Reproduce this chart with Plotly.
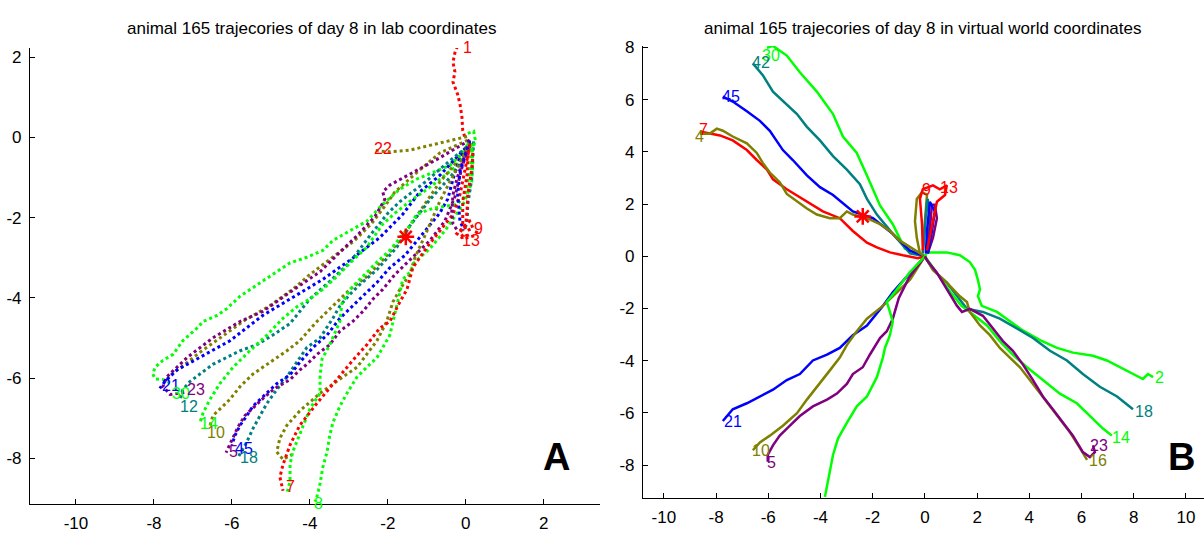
import plotly.graph_objects as go

RED = "#FF0000"; GREEN = "#00FF00"; BLUE = "#0000FF"
TEAL = "#008080"; OLIVE = "#808000"; PURPLE = "#800080"

# ---------------- Panel A: lab coordinates ----------------
labA_red1_x = [-0.03, -0.08, -0.10, -0.15, -0.21, -0.28, -0.33, -0.28, -0.33, -0.28, -0.21, -0.10]
labA_red1_y = [0.02, 0.17, 0.51, 0.83, 1.07, 1.24, 1.38, 1.63, 1.87, 2.11, 2.28, 2.33]

labA_olive22_x = [0.03, -0.49, -0.85, -1.18, -1.44, -1.69, -1.95, -2.21, -2.38]
labA_olive22_y = [0.02, -0.10, -0.19, -0.27, -0.32, -0.34, -0.36, -0.34, -0.32]

labA_red9_x = [0.10, 0.05, 0.03, -0.03, -0.08, -0.08, -0.08, 0.03, 0.18, 0.10, -0.08, -0.23, -0.10, 0.15]
labA_red9_y = [-0.15, -0.56, -0.95, -1.29, -1.60, -1.92, -2.16, -2.33, -2.26, -2.09, -2.26, -2.40, -2.50, -2.40]
labA_red13_x = [0.18, 0.15, 0.10, 0.05, 0.03, 0.0, -0.15, -0.03, 0.23, 0.31]
labA_red13_y = [-0.39, -0.80, -1.12, -1.43, -1.84, -2.14, -2.38, -2.52, -2.45, -2.28]
labA_purple_s_x = [0.10, -0.08, -0.23, -0.33, -0.36, -0.33, -0.21]
labA_purple_s_y = [-0.07, -0.63, -1.04, -1.43, -1.84, -2.16, -2.33]
labA_teal_s_x = [0.20, 0.18, 0.15, 0.05, 0.03, -0.08]
labA_teal_s_y = [-0.10, -0.39, -1.04, -1.67, -2.16, -2.33]
labA_blue_s_x = [0.10, 0.03, -0.15, -0.21, -0.15, -0.05]
labA_blue_s_y = [-0.10, -0.32, -0.87, -1.43, -2.09, -2.30]
labA_green_s_x = [0.05, 0.20, 0.25, 0.15, 0.0]
labA_green_s_y = [0.10, 0.15, -0.10, -0.30, -0.10]

labA_green30_x = [0.10, -0.08, -0.41, -0.85, -1.26, -1.69, -2.13, -2.54, -2.97, -3.41, -3.67, -4.08, -4.51, -4.77,
                  -5.28, -5.79, -6.13, -6.38, -6.74, -6.90, -7.26, -7.51, -7.77, -7.97, -8.03, -7.97, -7.77, -7.59]
labA_green30_y = [-0.07, -0.39, -0.70, -0.87, -1.04, -1.29, -1.67, -2.09, -2.33, -2.57, -2.82, -2.99, -3.13, -3.30,
                  -3.62, -3.96, -4.27, -4.44, -4.59, -4.76, -5.07, -5.41, -5.56, -5.73, -5.90, -6.02, -6.04, -6.12]

labA_olive_x = [0.05, -0.67, -1.31, -1.82, -2.08, -2.41, -2.85, -3.36, -4.0, -4.44, -5.03, -5.67, -6.31, -6.82, -7.21, -7.54, -7.72]
labA_olive_y = [-0.07, -0.39, -0.92, -1.36, -1.72, -2.14, -2.57, -2.94, -3.42, -3.79, -4.20, -4.56, -5.0, -5.36, -5.66, -5.90, -6.09]

labA_purple23_x = [0.10, -0.67, -1.44, -1.95, -2.13, -2.08, -2.33, -2.79, -3.31, -3.74, -4.51, -5.21, -5.79, -6.49, -7.15, -7.67, -7.77, -7.59, -7.21]
labA_purple23_y = [-0.07, -0.51, -0.92, -1.19, -1.36, -1.55, -1.97, -2.45, -2.94, -3.35, -3.86, -4.34, -4.59, -5.0, -5.49, -5.97, -6.21, -6.41, -6.36]

labA_blue21_x = [0.10, -0.67, -1.18, -1.62, -2.21, -2.97, -3.67, -4.51, -5.21, -6.05, -6.82, -7.41, -7.72, -7.85]
labA_blue21_y = [-0.15, -0.95, -1.36, -1.92, -2.50, -3.06, -3.54, -4.03, -4.44, -5.07, -5.49, -5.80, -6.09, -6.26]

labA_teal12_x = [0.15, -0.41, -1.05, -1.69, -2.0, -2.46, -2.97, -3.49, -4.0, -4.51, -4.95, -5.36, -5.79, -6.13, -6.49, -6.82, -7.08, -7.26, -7.33]
labA_teal12_y = [-0.15, -0.58, -1.12, -1.60, -1.89, -2.45, -3.11, -3.59, -4.03, -4.64, -4.93, -5.17, -5.32, -5.49, -5.66, -5.90, -6.09, -6.29, -6.53]

labA_green14_x = [0.15, -0.28, -0.92, -1.44, -1.82, -2.13, -2.54, -2.97, -3.31, -3.67, -4.0, -4.33, -4.69, -5.10, -5.54, -5.97, -6.31, -6.56, -6.74, -6.82]
labA_green14_y = [-0.15, -0.75, -1.24, -1.60, -1.89, -2.16, -2.74, -3.13, -3.47, -3.79, -4.03, -4.22, -4.51, -4.93, -5.32, -5.73, -6.14, -6.53, -6.87, -7.11]

labA_olive10_x = [0.10, -0.15, -0.67, -1.18, -1.69, -2.13, -2.54, -2.97, -3.41, -3.82, -4.26, -4.59, -5.10, -5.46, -5.79, -6.05, -6.23, -6.49, -6.56]
labA_olive10_y = [-0.15, -0.51, -1.12, -1.84, -2.57, -3.06, -3.47, -3.79, -4.20, -4.59, -5.07, -5.32, -5.66, -5.90, -6.21, -6.53, -6.70, -6.94, -7.18]

labA_teal18_x = [0.15, -0.10, -0.41, -0.92, -1.44, -1.77, -2.28, -2.72, -2.97, -3.23, -3.41, -3.74, -4.08, -4.26, -4.44, -4.59,
                 -4.85, -5.10, -5.28, -5.46, -5.62, -5.79, -5.85]
labA_teal18_y = [-0.15, -0.63, -1.0, -1.55, -2.21, -2.74, -3.30, -3.67, -3.91, -4.20, -4.51, -5.0, -5.24, -5.49, -5.73, -5.97,
                 -6.29, -6.63, -6.94, -7.26, -7.60, -7.91, -7.99]

labA_blue45_x = [0.10, -0.15, -0.33, -0.46, -0.67, -1.18, -1.56, -1.95, -2.28, -2.54, -2.90, -3.23, -3.56, -3.92, -4.26, -4.51,
                 -4.85, -5.10, -5.28, -5.46, -5.62, -5.79, -5.92, -6.0]
labA_blue45_y = [-0.15, -0.51, -1.04, -1.53, -1.89, -2.50, -2.94, -3.25, -3.62, -3.86, -4.20, -4.51, -4.93, -5.24, -5.61, -5.92,
                 -6.14, -6.38, -6.53, -6.70, -6.94, -7.18, -7.43, -7.67]

labA_purple5_x = [0.10, -0.10, -0.28, -0.54, -0.92, -1.44, -1.82, -2.13, -2.38, -2.64, -2.90, -3.23, -3.49, -3.82, -4.08, -4.26,
                  -4.51, -4.90, -5.15, -5.41, -5.67, -5.85, -6.0, -6.10, -6.15]
labA_purple5_y = [-0.15, -0.75, -1.48, -2.09, -2.57, -3.06, -3.42, -3.79, -4.03, -4.34, -4.59, -4.83, -5.17, -5.41, -5.66, -5.80,
                  -6.04, -6.26, -6.46, -6.70, -6.94, -7.23, -7.55, -7.72, -7.86]

labA_red7_x = [0.10, 0.03, -0.08, -0.15, -0.33, -0.67, -1.0, -1.36, -1.51, -1.69, -1.95, -2.21, -2.54, -2.90, -3.31, -3.82,
               -4.26, -4.51, -4.69, -4.77, -4.69]
labA_red7_y = [-0.22, -0.56, -1.04, -1.43, -1.92, -2.33, -2.74, -3.25, -3.79, -4.10, -4.59, -4.76, -5.17, -5.56, -6.04, -6.63,
               -7.18, -7.67, -8.16, -8.47, -8.81]

labA_olive4_x = [0.10, -0.28, -0.67, -1.05, -1.31, -1.44, -1.69, -1.87, -2.03, -2.28, -2.54, -2.79, -3.15, -3.74, -4.26, -4.59,
                 -4.77, -4.85, -4.69, -4.46]
labA_olive4_y = [-0.15, -0.87, -1.60, -2.45, -3.01, -3.42, -3.79, -4.10, -4.59, -5.07, -5.41, -5.73, -5.97, -6.38, -6.82, -7.18,
                 -7.50, -7.84, -8.03, -7.91]

labA_green4_x = [0.18, 0.10, -0.03, -0.23, -0.85, -1.26, -1.44, -1.69, -1.95, -2.28, -2.64, -2.97, -3.18, -3.23, -3.49, -3.69,
                 -3.74, -3.74, -4.0, -4.26, -4.44, -4.51, -4.51, -4.59]
labA_green4_y = [-0.15, -0.87, -1.48, -1.67, -1.77, -1.92, -2.21, -2.52, -2.82, -3.11, -3.47, -3.79, -4.15, -4.59, -5.17, -5.53,
                 -5.97, -6.38, -6.77, -7.43, -7.84, -8.16, -8.57, -8.88]

labA_green8_x = [0.15, 0.18, 0.15, -0.03, -0.28, -0.54, -0.92, -1.31, -1.44, -1.62, -1.69, -1.77, -1.87, -1.95, -2.13, -2.28,
                 -2.54, -2.79, -3.05, -3.23, -3.41, -3.49, -3.56, -3.67, -3.74, -3.82, -3.87]
labA_green8_y = [-0.15, -0.63, -1.12, -1.60, -1.97, -2.33, -2.77, -3.11, -3.37, -3.54, -3.86, -4.20, -4.59, -4.93, -5.24, -5.49,
                 -5.73, -5.97, -6.38, -6.70, -7.11, -7.43, -7.84, -8.23, -8.64, -8.96, -9.08]

labA_star_x = [-1.54]
labA_star_y = [-2.48]

labA_text = ["1", "22", "9", "13", "21", "30", "23", "12", "14", "10", "5", "45", "18", "7", "8"]
labA_text_x = [-0.12, -2.41, 0.15, -0.15, -7.85, -7.59, -7.21, -7.38, -6.87, -6.69, -6.13, -5.97, -5.85, -4.67, -3.95]
labA_text_y = [2.23, -0.27, -2.26, -2.57, -6.19, -6.38, -6.29, -6.70, -7.14, -7.35, -7.82, -7.75, -7.99, -8.71, -9.13]
labA_text_c = [RED, RED, RED, RED, BLUE, GREEN, PURPLE, TEAL, GREEN, OLIVE, PURPLE, BLUE, TEAL, RED, GREEN]

# ---------------- Panel B: virtual world coordinates ----------------
vw_green30_x = [0, -0.77, -1.23, -1.72, -2.22, -2.61, -3.14, -3.52, -4.14, -4.79, -5.29, -5.82, -6.05]
vw_green30_y = [0, 0.30, 1.23, 1.95, 3.10, 3.96, 4.59, 5.45, 6.31, 7.05, 7.69, 8.06, 7.99]
vw_teal42_x = [0, -0.57, -1.23, -1.84, -2.22, -2.49, -2.99, -3.52, -4.02, -4.52, -4.90, -5.29, -5.82, -6.21, -6.59]
vw_teal42_y = [0, 0.11, 0.86, 1.60, 2.20, 2.76, 3.32, 3.84, 4.44, 4.96, 5.45, 5.82, 6.31, 6.94, 7.39]
vw_blue45_x = [0, -0.57, -1.23, -1.99, -2.76, -3.52, -4.02, -4.52, -5.06, -5.44, -5.94, -6.32, -6.82, -7.36, -7.74]
vw_blue45_y = [0, 0.22, 0.86, 1.46, 1.72, 2.35, 2.65, 3.10, 3.69, 4.07, 4.81, 5.19, 5.56, 5.93, 6.12]
vw_red7_x = [0, -0.27, -0.84, -1.34, -1.84, -2.22, -2.76, -3.26, -3.91, -4.52, -5.29, -5.82, -6.05, -6.44, -6.82, -7.36, -7.85, -8.62]
vw_red7_y = [0, -0.07, 0.04, 0.15, 0.34, 0.52, 0.97, 1.46, 1.72, 2.09, 2.57, 2.95, 3.32, 3.69, 4.07, 4.44, 4.63, 4.78]
vw_olive4_x = [0, -0.57, -0.96, -1.34, -1.72, -2.22, -2.76, -2.99, -3.26, -3.64, -4.14, -4.52, -4.90, -5.29, -5.56, -5.94,
               -6.21, -6.44, -6.82, -7.36, -7.74, -7.97, -8.24, -8.62]
vw_olive4_y = [0, 0.34, 0.60, 0.97, 1.23, 1.46, 1.60, 1.72, 1.46, 1.46, 1.60, 1.83, 2.09, 2.39, 2.84, 3.21,
               3.58, 3.96, 4.33, 4.59, 4.81, 4.89, 4.70, 4.70]
vw_blue21_x = [0, -0.57, -1.23, -1.61, -2.22, -2.76, -3.26, -3.75, -4.29, -4.79, -5.29, -5.82, -6.32, -6.82, -7.36, -7.66, -7.74]
vw_blue21_y = [0, -0.63, -1.38, -1.90, -2.65, -3.02, -3.51, -3.77, -3.99, -4.51, -4.74, -5.11, -5.37, -5.63, -5.86, -6.19, -6.31]
vw_olive10_x = [0, -0.57, -1.23, -1.61, -2.22, -2.61, -2.99, -3.26, -3.64, -4.14, -4.52, -4.90, -5.44, -5.94, -6.32, -6.59]
vw_olive10_y = [0, -0.90, -1.53, -1.90, -2.39, -2.87, -3.40, -3.88, -4.37, -5.00, -5.49, -6.01, -6.49, -6.87, -7.13, -7.43]
vw_purple5_x = [0, -0.6, -1.0, -1.23, -1.46, -1.72, -2.11, -2.38, -2.76, -2.99, -3.37, -3.75, -4.29, -4.79, -5.17, -5.56, -5.82, -6.02, -6.02]
vw_purple5_y = [0, -0.8, -1.6, -2.39, -2.87, -3.13, -3.77, -4.25, -4.51, -4.89, -5.26, -5.49, -5.75, -6.12, -6.49, -6.87, -7.24, -7.61, -7.87]
vw_green8_x = [0, -0.57, -1.10, -1.46, -1.34, -1.23, -1.34, -1.53, -1.61, -1.84, -2.22, -2.61, -2.99, -3.33, -3.52, -3.64, -3.75, -3.83]
vw_green8_y = [0, -0.60, -1.30, -1.75, -2.13, -2.50, -3.02, -3.51, -3.88, -4.63, -5.37, -5.75, -6.38, -6.98, -7.61, -8.25, -8.73, -9.22]
vw_green2_x = [0, 0.08, 0.84, 1.34, 1.72, 1.92, 2.03, 2.11, 2.03, 2.18, 2.76, 3.26, 3.75, 4.41, 5.06, 5.67, 6.44, 6.97, 7.47, 7.97, 8.35, 8.54, 8.74]
vw_green2_y = [0, 0.15, 0.15, 0.04, -0.22, -0.52, -0.90, -1.27, -1.53, -1.90, -2.13, -2.50, -2.84, -3.21, -3.51, -3.69, -3.81, -3.99, -4.25, -4.51, -4.70, -4.51, -4.63]
vw_teal18_x = [0, 0.31, 0.84, 1.23, 1.61, 2.22, 2.87, 3.52, 4.14, 4.79, 5.44, 6.05, 6.70, 7.36, 7.97]
vw_teal18_y = [0, -0.52, -1.01, -1.53, -2.01, -2.13, -2.39, -2.76, -3.13, -3.62, -3.99, -4.51, -5.00, -5.37, -5.86]
vw_green14_x = [0, 0.5, 1.0, 1.4, 1.72, 2.38, 2.87, 3.37, 3.91, 4.52, 5.17, 5.82, 6.32, 6.82, 7.16]
vw_green14_y = [0, -0.7, -1.4, -1.9, -2.13, -2.65, -3.25, -3.77, -4.25, -4.74, -5.26, -5.63, -6.12, -6.60, -6.87]
vw_purple23_x = [0, 0.08, 0.46, 0.84, 1.23, 1.42, 1.72, 2.22, 2.61, 2.99, 3.37, 3.75, 4.14, 4.52, 4.90, 5.29, 5.67, 6.05, 6.32, 6.51, 6.44]
vw_purple23_y = [0, -0.15, -0.63, -1.27, -1.90, -2.13, -2.01, -2.28, -2.76, -3.25, -3.62, -4.14, -4.74, -5.37, -5.86, -6.38, -6.87, -7.50, -7.69, -7.50, -7.24]
vw_olive16_x = [0, 0.31, 0.84, 1.34, 1.61, 1.72, 2.11, 2.49, 2.87, 3.26, 3.64, 4.02, 4.41, 4.79, 5.17, 5.56, 5.94, 6.21]
vw_olive16_y = [0, -0.52, -1.01, -1.53, -1.75, -2.13, -2.65, -3.02, -3.51, -3.88, -4.25, -4.74, -5.26, -5.75, -6.23, -6.75, -7.35, -7.80]
vw_olive_c_x = [-0.19, -0.31, -0.38, -0.31, -0.11, 0.08, 0.0, -0.08]
vw_olive_c_y = [0.11, 0.71, 1.34, 2.20, 2.46, 2.35, 1.34, 0.11]
vw_red_c_x = [-0.08, -0.11, -0.19, -0.08, 0.31, 0.57, 0.84, 0.77, 0.46, 0.27, 0.08]
vw_red_c_y = [0.22, 1.23, 2.20, 2.57, 2.72, 2.57, 2.72, 2.35, 2.09, 1.08, 0.22]
vw_teal_c_x = [-0.08, 0.0, 0.08, 0.11, 0.19, 0.11]
vw_teal_c_y = [0.11, 1.23, 2.09, 2.20, 1.34, 0.11]
vw_purple_c_x = [0.11, 0.31, 0.46, 0.38, 0.27, 0.19, 0.11]
vw_purple_c_y = [0.11, 0.71, 1.46, 1.98, 1.98, 0.97, 0.11]
vw_blue_c_x = [0.11, 0.27, 0.38, 0.19, 0.08, 0.04]
vw_blue_c_y = [0.11, 0.97, 1.72, 2.09, 0.97, 0.11]

vw_star_x = [-2.38]
vw_star_y = [1.53]

vw_text = ["30", "42", "45", "7", "4", "9", "13", "2", "18", "14", "23", "16", "21", "10", "5", "8"]
vw_text_x = [-6.32, -6.70, -7.85, -8.74, -8.90, -0.20, 0.50, 8.74, 7.97, 7.09, 6.25, 6.21, -7.78, -6.70, -6.13, -3.95]
vw_text_y = [7.69, 7.43, 6.12, 4.85, 4.60, 2.55, 2.65, -4.63, -5.93, -6.94, -7.24, -7.84, -6.31, -7.43, -7.91, -9.29]
vw_text_c = [GREEN, TEAL, BLUE, RED, OLIVE, RED, RED, GREEN, TEAL, GREEN, PURPLE, OLIVE, BLUE, OLIVE, PURPLE, GREEN]

ticksA_x = [-10, -8, -6, -4, -2, 0, 2]
ticksA_y = [-8, -6, -4, -2, 0, 2]
ticksB_x = [-10, -8, -6, -4, -2, 0, 2, 4, 6, 8, 10]
ticksB_y = [-8, -6, -4, -2, 0, 2, 4, 6, 8]

titleA = "animal 165 trajecories of day 8 in lab coordinates"
titleB = "animal 165 trajecories of day 8 in virtual world coordinates"

# ---------------- figure ----------------
fig = go.Figure()

lab_tracks = [
    (labA_red1_x, labA_red1_y, RED),
    (labA_olive22_x, labA_olive22_y, OLIVE),
    (labA_green30_x, labA_green30_y, GREEN),
    (labA_olive_x, labA_olive_y, OLIVE),
    (labA_purple23_x, labA_purple23_y, PURPLE),
    (labA_blue21_x, labA_blue21_y, BLUE),
    (labA_teal12_x, labA_teal12_y, TEAL),
    (labA_green14_x, labA_green14_y, GREEN),
    (labA_olive10_x, labA_olive10_y, OLIVE),
    (labA_teal18_x, labA_teal18_y, TEAL),
    (labA_blue45_x, labA_blue45_y, BLUE),
    (labA_purple5_x, labA_purple5_y, PURPLE),
    (labA_olive4_x, labA_olive4_y, OLIVE),
    (labA_green4_x, labA_green4_y, GREEN),
    (labA_green8_x, labA_green8_y, GREEN),
    (labA_red7_x, labA_red7_y, RED),
    (labA_purple_s_x, labA_purple_s_y, PURPLE),
    (labA_teal_s_x, labA_teal_s_y, TEAL),
    (labA_blue_s_x, labA_blue_s_y, BLUE),
    (labA_green_s_x, labA_green_s_y, GREEN),
    (labA_red9_x, labA_red9_y, RED),
    (labA_red13_x, labA_red13_y, RED),
]
for xs, ys, c in lab_tracks:
    fig.add_trace(go.Scatter(x=xs, y=ys, mode="lines", xaxis="x", yaxis="y",
                             line=dict(color=c, width=3, dash="3px,3px"),
                             showlegend=False, hoverinfo="skip"))
fig.add_trace(go.Scatter(x=labA_star_x, y=labA_star_y, mode="markers", xaxis="x", yaxis="y",
                         marker=dict(symbol="asterisk-open", size=14, color=RED, line=dict(color=RED, width=2.5)),
                         showlegend=False))

vw_tracks = [
    (vw_green30_x, vw_green30_y, GREEN),
    (vw_teal42_x, vw_teal42_y, TEAL),
    (vw_blue45_x, vw_blue45_y, BLUE),
    (vw_red7_x, vw_red7_y, RED),
    (vw_olive4_x, vw_olive4_y, OLIVE),
    (vw_blue21_x, vw_blue21_y, BLUE),
    (vw_olive10_x, vw_olive10_y, OLIVE),
    (vw_purple5_x, vw_purple5_y, PURPLE),
    (vw_green8_x, vw_green8_y, GREEN),
    (vw_green2_x, vw_green2_y, GREEN),
    (vw_teal18_x, vw_teal18_y, TEAL),
    (vw_green14_x, vw_green14_y, GREEN),
    (vw_olive16_x, vw_olive16_y, OLIVE),
    (vw_purple23_x, vw_purple23_y, PURPLE),
    (vw_olive_c_x, vw_olive_c_y, OLIVE),
    (vw_teal_c_x, vw_teal_c_y, TEAL),
    (vw_purple_c_x, vw_purple_c_y, PURPLE),
    (vw_blue_c_x, vw_blue_c_y, BLUE),
    (vw_red_c_x, vw_red_c_y, RED),
]
for xs, ys, c in vw_tracks:
    fig.add_trace(go.Scatter(x=xs, y=ys, mode="lines", xaxis="x2", yaxis="y2",
                             line=dict(color=c, width=2.5),
                             showlegend=False, hoverinfo="skip"))
fig.add_trace(go.Scatter(x=vw_star_x, y=vw_star_y, mode="markers", xaxis="x2", yaxis="y2",
                         marker=dict(symbol="asterisk-open", size=14, color=RED, line=dict(color=RED, width=2.5)),
                         showlegend=False))

FONT = "Liberation Sans, Arial, sans-serif"
annotations = []
for t, x, y, c in zip(labA_text, labA_text_x, labA_text_y, labA_text_c):
    annotations.append(dict(x=x, y=y, xref="x", yref="y", text=t, showarrow=False,
                            xanchor="left", yanchor="middle", font=dict(family=FONT, size=16, color=c)))
for t, x, y, c in zip(vw_text, vw_text_x, vw_text_y, vw_text_c):
    annotations.append(dict(x=x, y=y, xref="x2", yref="y2", text=t, showarrow=False,
                            xanchor="left", yanchor="middle", font=dict(family=FONT, size=16, color=c)))
annotations.append(dict(x=0.259, y=0.9587, xref="paper", yref="paper", text=titleA, showarrow=False,
                        xanchor="center", yanchor="middle", font=dict(family=FONT, size=17, color="#000")))
annotations.append(dict(x=0.767, y=0.9587, xref="paper", yref="paper", text=titleB, showarrow=False,
                        xanchor="center", yanchor="middle", font=dict(family=FONT, size=17, color="#000")))
annotations.append(dict(x=0.4626, y=0.1332, xref="paper", yref="paper", text="<b>A</b>", showarrow=False,
                        xanchor="center", yanchor="middle", font=dict(family=FONT, size=38, color="#000")))
annotations.append(dict(x=0.9817, y=0.1332, xref="paper", yref="paper", text="<b>B</b>", showarrow=False,
                        xanchor="center", yanchor="middle", font=dict(family=FONT, size=38, color="#000")))

axis_common = dict(showgrid=False, zeroline=False, showline=True, linecolor="#000", linewidth=1,
                   ticks="inside", ticklen=5, tickcolor="#000", ticklabelstandoff=4,
                   tickfont=dict(family=FONT, size=17, color="#000"))

fig.update_layout(
    width=1204, height=533, autosize=False,
    margin=dict(l=0, r=0, t=0, b=0),
    paper_bgcolor="white", plot_bgcolor="white",
    xaxis=dict(domain=[0.0249, 0.4983], range=[-11.18, 3.44], anchor="y",
               tickvals=ticksA_x, ticktext=[str(v) for v in ticksA_x], **axis_common),
    yaxis=dict(domain=[0.0432, 0.9212], range=[-9.13, 2.23], anchor="x",
               tickvals=ticksA_y, ticktext=[str(v) for v in ticksA_y], **axis_common),
    xaxis2=dict(domain=[0.534, 1.0], range=[-10.80, 10.69], anchor="y2",
                tickvals=ticksB_x, ticktext=[str(v) for v in ticksB_x], **axis_common),
    yaxis2=dict(domain=[0.0544, 0.925], range=[-9.25, 8.06], anchor="x2",
                tickvals=ticksB_y, ticktext=[str(v) for v in ticksB_y], **axis_common),
    annotations=annotations,
)

fig.write_html("out.html", config={"displayModeBar": False},
               post_script="document.body.style.margin='0';document.body.style.overflow='hidden';")
